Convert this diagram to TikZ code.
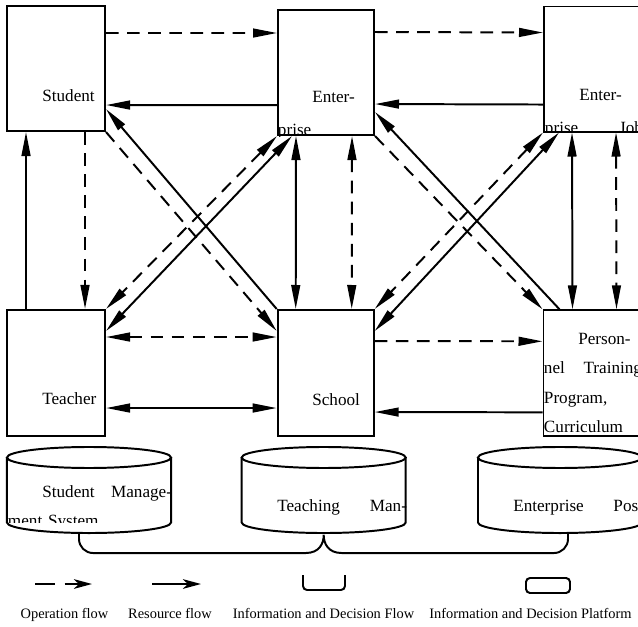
\documentclass[tikz,border=0pt]{standalone}
\usepackage{fontspec}
\setmainfont{Liberation Serif}
\usepackage{tikz}
\usetikzlibrary{arrows.meta}

\begin{document}
\begin{tikzpicture}[x=0.025cm, y=-0.025cm, line width=1.4pt,
  every node/.style={font=\fontsize{12.2}{21}\selectfont},
  blk/.style={draw, minimum width=2.45cm, minimum height=3.125cm},
  sysblk/.style={minimum width=4.1cm, minimum height=2.15cm, inner sep=0pt, outer sep=0pt},
  txt/.style={anchor=base west, inner sep=0pt, align=left},
  keytxt/.style={anchor=base, inner sep=0pt, font=\fontsize{10.25}{12}\selectfont},
  >={Triangle[length=6mm, width=2.2mm]},
  opflow/.style={dash pattern=on 9pt off 6pt},
  keytip/.style={-{Stealth[length=4.5mm, width=2.4mm, inset=1.2mm]}}
]
\useasboundingbox (0,0) rectangle (638,626);

% actors
\node[blk] (stu) at (56,68.5) {};
\node[blk, minimum width=2.4cm] (ent) at (326,72.5) {};
\node[blk] (job) at (593,69) {};
\node[blk, minimum height=3.15cm] (tea) at (56,373) {};
\node[blk, minimum width=2.4cm, minimum height=3.15cm] (sch) at (325.7,373) {};
\node[blk, minimum height=3.15cm] (per) at (592.5,373.3) {};

\node[txt, text width=2.45cm] (stutxt) at (7,101) {\hspace*{2em}Student};
\begin{scope}
  \clip (ent.north west) rectangle (ent.south east);
  \node[txt, text width=2.4cm] (enttxt) at (277,102) {\hspace*{2em}Enter-\\[2.5pt]prise};
\end{scope}
\begin{scope}
  \clip (job.north west) rectangle (job.south east);
  \node[txt, text width=2.45cm] (jobtxt) at (544,100) {\hspace*{2em}Enter-\\[2.5pt]prise\hfill Job};
\end{scope}
\node[txt, text width=2.45cm] (teatxt) at (7,404) {\hspace*{2em}Teacher};
\node[txt, text width=2.4cm] (schtxt) at (277,405) {\hspace*{2em}School};
\begin{scope}
  \clip (per.north west) rectangle (per.south east);
  \node[txt, text width=2.45cm] (pertxt) at (543,344) {\hspace*{2em}Person-\\nel\hfill Training\\Program,\\Curriculum};
\end{scope}

% flows, top row
\draw[opflow, ->] ([yshift=-7mm]stu.north east) -- ([yshift=-6mm]ent.north west);
\draw[->] ([yshift=-24mm]ent.north west) -- ([yshift=-25mm]stu.north east);
\draw[opflow, ->] ([yshift=-5.75mm]ent.north east) -- ([yshift=-6.75mm]job.north west);
\draw[->] ([yshift=-24.75mm]job.north west) -- ([yshift=-23.75mm]ent.north east);

% flows between rows
\draw[opflow, ->] ([xshift=19.75mm]stu.south west) -- ([xshift=19.75mm]tea.north west);
\draw[->] ([xshift=5mm]tea.north west) -- ([xshift=5mm]stu.south west);
\draw[opflow, ->] (stu.south east) -- ([yshift=-5.5mm]sch.north west);
\draw[->] (sch.north west) -- ([yshift=-26mm]stu.north east);
\draw[opflow, <->] (ent.south west) -- (tea.north east);
\draw[<->] ([xshift=3.75mm]ent.south west) -- ([yshift=-5.5mm]tea.north east);
\draw[<->] ([xshift=4.75mm]ent.south west) -- ([xshift=4.75mm]sch.north west);
\draw[opflow, <->] ([xshift=18.75mm]ent.south west) -- ([xshift=18.75mm]sch.north west);
\draw[opflow, ->] (ent.south east) -- (per.north west);
\draw[->] ([xshift=4.25mm]per.north west) -- ([yshift=-25.75mm]ent.north east);
\draw[opflow, <->] (job.south west) -- (sch.north east);
\draw[<->] ([xshift=4mm]job.south west) -- ([yshift=-5.5mm]sch.north east);
\draw[<->] ([xshift=7.25mm]job.south west) -- ([xshift=7.5mm]per.north west);
\draw[opflow, <->] ([xshift=18.25mm]job.south west) -- ([xshift=18.5mm]per.north west);

% flows, bottom row
\draw[opflow, <->] ([yshift=-7mm]tea.north east) -- ([yshift=-7mm]sch.north west);
\draw[<->] ([yshift=-24.75mm]tea.north east) -- ([yshift=-24.75mm]sch.north west);
\draw[opflow, ->] ([yshift=-8mm]sch.north east) -- ([yshift=-8mm]per.north west);
\draw[->] ([yshift=-25.75mm]per.north west) -- ([yshift=-25.75mm]sch.north east);

% platforms
\node[sysblk] (stusys) at (89,490) {};
\node[sysblk] (teasys) at (323.7,490) {};
\node[sysblk] (possys) at (560,490) {};
\foreach \n in {stusys,teasys,possys}{
  \draw ([yshift=-2.625mm]\n.north) ellipse [x radius=2.05cm, y radius=2.625mm];
  \draw ([yshift=-2.625mm]\n.north west) -- ([yshift=2.625mm]\n.south west)
    arc [start angle=180, end angle=360, x radius=2.05cm, y radius=2.625mm]
    -- ([yshift=-2.625mm]\n.north east);
}
\begin{scope}
  \clip ([yshift=2.625mm]stusys.south west) rectangle (stusys.north east);
  \node[txt, text width=4.1cm] (stusystxt) at (7,497) {\hspace*{2em}Student\hfill Manage-\\ment System};
\end{scope}
\node[txt, text width=4.1cm] (teasystxt) at (242,511) {\hspace*{2em}Teaching\hfill Man-};
\node[txt, text width=4.1cm] (possystxt) at (478,511) {\hspace*{2em}Enterprise\hfill Post};

% information and decision flow
\draw ([xshift=-2.5mm]stusys.south) -- ++(0,6)
  arc [start angle=180, end angle=270, radius=3.5mm]
  -- ([xshift=-4.5mm, yshift=-5mm]teasys.south)
  .. controls +(3.5mm,0) and +(0,-2mm) .. ([yshift=-0.5mm]teasys.south)
  .. controls +(0,-2mm) and +(-3.5mm,0) .. ([xshift=4.5mm, yshift=-5mm]teasys.south)
  -- ([xshift=-1.5mm, yshift=-5mm]possys.south)
  arc [start angle=270, end angle=360, radius=3.5mm]
  -- ([xshift=2mm]possys.south);

% legend
\coordinate (opa) at (35,584);
\coordinate (opb) at (92,584);
\draw[keytip, dash pattern=on 14pt off 7pt] (opa) -- (opb);
\coordinate (resa) at (152,584);
\coordinate (resb) at (201,584);
\draw[keytip] (resa) -- (resb);
\node[minimum width=1cm, minimum height=3.25mm, inner sep=0pt] (idfkey) at (324,582.5) {};
\draw[rounded corners=1mm] (idfkey.north west) -- (idfkey.south west) -- (idfkey.south east) -- (idfkey.north east);
\node[draw, rounded corners=1mm, minimum width=1.1cm, minimum height=3.75mm, inner sep=0pt] (platkey) at (548,585.5) {};
\node[keytxt] (oplbl) at (64.5,618) {Operation flow};
\node[keytxt] (reslbl) at (170,618) {Resource flow};
\node[keytxt] (idflbl) at (323.5,618) {Information and Decision Flow};
\node[keytxt] (platlbl) at (530.5,618) {Information and Decision Platform};
\end{tikzpicture}
\end{document}
